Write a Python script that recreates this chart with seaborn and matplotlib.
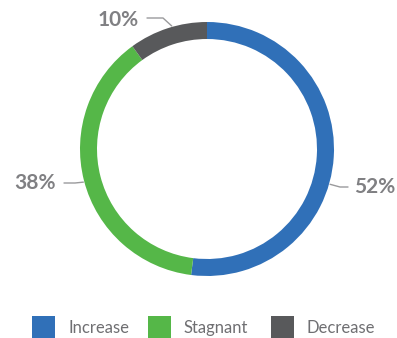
import matplotlib
matplotlib.use("Agg")
import matplotlib.pyplot as plt
from matplotlib.patches import Rectangle
import numpy as np
import seaborn as sns

# Share of respondents by trend
categories = ["Increase", "Stagnant", "Decrease"]
shares = [52, 38, 10]
value_labels = ["52%", "38%", "10%"]

sns.set_theme(style="white")
plt.rcParams["font.family"] = ["Lato", "DejaVu Sans"]

palette = sns.color_palette(["#3070b8", "#55b748", "#58595b"])
text_grey = "#808083"

W, H = 397, 338
fig = plt.figure(figsize=(W / 100, H / 100), dpi=100)
ax = fig.add_axes([0, 0, 1, 1])

cx, cy = 207, H - 149
radius, ring = 127, 17
wedges, _ = ax.pie(
    shares,
    colors=palette,
    startangle=90,
    counterclock=False,
    radius=radius,
    center=(cx, cy),
    wedgeprops=dict(width=ring, edgecolor="none", linewidth=0),
)
ax.set_xlim(0, W)
ax.set_ylim(0, H)
ax.set_aspect("equal")
ax.axis("off")

# Value labels with leader lines: (anchor angle on ring, elbow point, text position, alignment)
label_style = [
    (-16, (348, H - 187), (354, H - 187), "left"),
    (-165, (75, H - 183), (56, H - 183), "right"),
    (106, (163, H - 18), (139, H - 20), "right"),
]
for lab, (ang, elbow, tpos, ha) in zip(value_labels, label_style):
    a = np.deg2rad(ang)
    rx, ry = cx + (radius + 1) * np.cos(a), cy + (radius + 1) * np.sin(a)
    if ha == "left":
        line_x = [rx, elbow[0] - 8, elbow[0]]
        line_y = [ry, elbow[1], elbow[1]]
    else:
        line_x = [rx, elbow[0], tpos[0] + 8]
        line_y = [ry, elbow[1], elbow[1]]
    ax.plot(line_x, line_y, color="#9a9a9c", lw=1.0, solid_joinstyle="miter")
    ax.text(tpos[0], tpos[1], lab, ha=ha, va="center", fontsize=15,
            fontweight="bold", color=text_grey)

# Legend row
legend_x = [32, 148, 271]
for x0, name, col in zip(legend_x, categories, palette):
    ax.add_patch(Rectangle((x0, 0), 23, 22, facecolor=col, edgecolor="none"))
    ax.text(x0 + 36, 10, name, ha="left", va="center", fontsize=12,
            color="#6f6f72")

fig.savefig("out.png", dpi=100)
